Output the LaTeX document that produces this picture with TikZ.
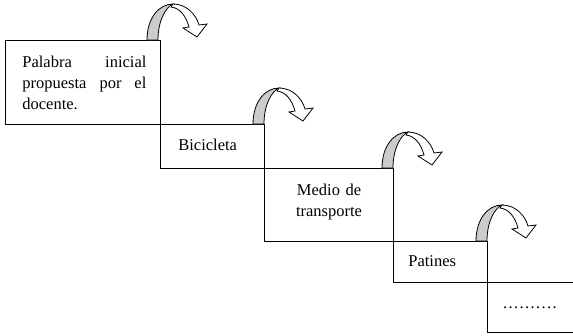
\documentclass[tikz,border=0pt]{standalone}
\usepackage{fontspec}
\setmainfont{Liberation Serif}
\begin{document}
\begin{tikzpicture}[x=1pt,y=-1pt,line width=0.8pt,
  stepbox/.style={draw, rectangle, anchor=north west, inner sep=0pt, outer sep=0pt},
  lbl/.style={font=\fontsize{16.5}{21}\selectfont, inner sep=0pt},
  curlarrow/.pic={
    \filldraw[fill=gray!40, line width=0.8pt] (0,0) .. controls (0,-22) and (12,-36) .. (26,-36)
      .. controls (19,-33) and (11,-20) .. (11,0) -- cycle;
    \filldraw[fill=white, line width=0.8pt] (26,-36) .. controls (39,-36) and (49,-26) .. (52,-15)
      -- (60,-16) -- (50,-3) -- (36,-12) -- (42,-13)
      .. controls (39,-24) and (33,-32) .. (24,-33) -- cycle;
  }]
\useasboundingbox (0,0) rectangle (573,335);
% boxes
\node[stepbox, minimum width=155pt, minimum height=84pt] (b1) at (5,40) {};
\node[stepbox, minimum width=104pt, minimum height=44pt] (b2) at (160,124) {};
\node[stepbox, minimum width=129pt, minimum height=73pt] (b3) at (264,168) {};
\node[stepbox, minimum width=94pt, minimum height=41pt] (b4) at (393,241) {};
\node[stepbox, minimum width=100pt, minimum height=50pt] (b5) at (487,282) {};
% texts
\node[lbl, anchor=base west, text width=124pt] (t1) at (22,67)
  {\leavevmode\hbox to 124pt{Palabra\hfill inicial}\\\leavevmode\hbox to 124pt{propuesta\hfill por\hfill el}\\docente.};
\node[lbl, anchor=base west] (t2) at (178,150) {Bicicleta};
\node[lbl, anchor=base, text width=120pt, align=center] (t3) at (329,195) {Medio de\\transporte};
\node[lbl, anchor=base west] (t4) at (408,266) {Patines};
\node[lbl, anchor=base west] (t5) at (502,308)
  {\hbox to 55pt{\xleaders\hbox to 5.5pt{\hss.\hss}\hfill}};
% curved arrows
\pic (a1) at (147,40) {curlarrow};
\pic (a2) at (253,124) {curlarrow};
\pic (a3) at (382,168) {curlarrow};
\pic (a4) at (476,241) {curlarrow};
\end{tikzpicture}
\end{document}
